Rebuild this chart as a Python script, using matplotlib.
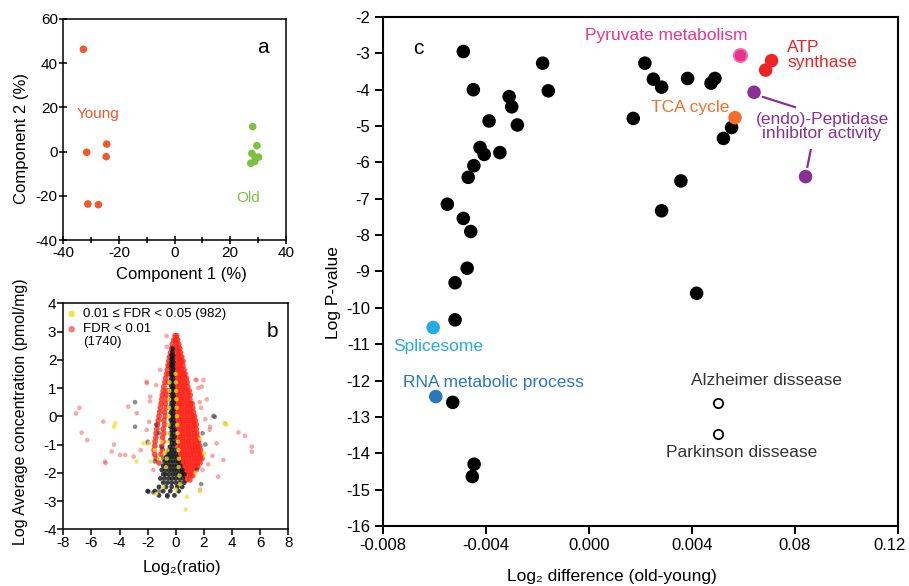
import matplotlib
matplotlib.use('Agg')
import matplotlib.pyplot as plt
import matplotlib.transforms as mtransforms

plt.rcParams['font.family'] = ['Liberation Sans', 'DejaVu Sans']
plt.rcParams['axes.unicode_minus'] = False

# ---------------- Panel a data (PCA) ----------------
young_x = [-32.8, -31.6, -24.4, -24.6, -31.2, -27.4]
young_y = [46.3, -0.3, 3.4, -2.3, -23.7, -24.0]
old_x = [28.1, 29.6, 27.8, 29.0, 30.2, 27.4, 28.8]
old_y = [11.3, 2.7, -0.8, -2.5, -2.5, -5.3, -4.5]

# ---------------- Panel b data (rows: y, list of x) ----------------
red_core_rows = [
    (2.85, [-0.05, 0.05]),
    (2.7, [-0.15, 0.0, 0.12]),
    (2.55, [-0.25, 0.05, 0.2]),
    (2.4, [-0.3, 0.0, 0.15, 0.28]),
    (2.25, [-0.38, 0.05, 0.2, 0.33]),
    (2.1, [-0.45, 0.0, 0.15, 0.3, 0.42]),
    (1.95, [-0.5, 0.05, 0.22, 0.38, 0.5]),
    (1.8, [-0.55, -0.45, 0.0, 0.17, 0.33, 0.5]),
    (1.65, [-0.6, 0.05, 0.22, 0.4, 0.58]),
    (1.5, [-0.65, -0.5, 0.0, 0.18, 0.36, 0.54, 0.66]),
    (1.35, [-0.72, 0.05, 0.25, 0.45, 0.62, 0.75]),
    (1.2, [-0.78, -0.55, 0.0, 0.2, 0.4, 0.6, 0.8]),
    (1.05, [-0.85, 0.05, 0.25, 0.45, 0.65, 0.85]),
    (0.9, [-0.9, -0.6, 0.0, 0.2, 0.4, 0.6, 0.8, 0.95]),
    (0.75, [-0.95, -0.7, 0.05, 0.25, 0.45, 0.65, 0.85, 1.02]),
    (0.6, [-1.0, -0.65, 0.0, 0.2, 0.4, 0.6, 0.8, 1.0]),
    (0.45, [-1.05, -0.75, 0.05, 0.25, 0.45, 0.65, 0.85, 1.05, 1.15]),
    (0.3, [-1.1, -0.7, 0.0, 0.2, 0.4, 0.6, 0.8, 1.0, 1.2]),
    (0.15, [-1.15, -0.8, 0.05, 0.25, 0.45, 0.65, 0.85, 1.05, 1.25]),
    (0.0, [-1.2, -0.75, 0.0, 0.2, 0.4, 0.6, 0.8, 1.0, 1.2, 1.32]),
    (-0.15, [-1.25, -0.85, 0.05, 0.25, 0.45, 0.65, 0.85, 1.05, 1.25, 1.38]),
    (-0.3, [-1.3, -0.8, 0.1, 0.3, 0.5, 0.7, 0.9, 1.1, 1.3, 1.45]),
    (-0.45, [-1.35, -0.9, 0.05, 0.25, 0.45, 0.65, 0.85, 1.05, 1.25, 1.45]),
    (-0.6, [-1.4, -0.85, 0.1, 0.3, 0.5, 0.7, 0.9, 1.1, 1.3, 1.5]),
    (-0.75, [-1.42, -0.95, 0.15, 0.35, 0.55, 0.75, 0.95, 1.15, 1.35, 1.55]),
    (-0.9, [-1.48, -0.9, 0.1, 0.3, 0.5, 0.7, 0.9, 1.1, 1.3, 1.5, 1.62]),
    (-1.05, [-1.5, -1.0, 0.15, 0.35, 0.55, 0.75, 0.95, 1.15, 1.35, 1.55, 1.7]),
    (-1.2, [-1.55, -0.95, 0.2, 0.4, 0.6, 0.8, 1.0, 1.2, 1.4, 1.6, 1.75]),
    (-1.35, [-1.5, -1.05, 0.25, 0.45, 0.65, 0.85, 1.05, 1.25, 1.45, 1.65, 1.8]),
    (-1.5, [-1.4, 0.3, 0.5, 0.7, 0.9, 1.1, 1.3, 1.5, 1.7, 1.85]),
    (-1.65, [-1.2, 0.35, 0.55, 0.75, 0.95, 1.15, 1.35, 1.55, 1.72]),
    (-1.8, [0.4, 0.6, 0.8, 1.0, 1.2, 1.4, 1.55]),
    (-1.95, [0.5, 0.7, 0.9, 1.1, 1.3]),
    (-2.1, [0.6, 0.85, 1.05, 1.2]),
    (-2.25, [0.75, 1.0]),
]
pink_x = [-6.86, -7.1, -6.3, -6.7, -5.16, -5.04, -4.56, -3.97, -3.38, -3.0, -2.07, -1.83,
          -2.07, -2.0, -1.12, -0.65, -0.65, 1.96, 1.6, 2.4, 2.9, 3.5, 3.0, 4.45, 4.92, 5.4,
          5.4, 1.72, 2.6, 2.2, -1.6, -1.9, 1.9, 2.1, -2.5, -1.4, 2.3, 1.4, 1.8, 1.49, 1.84,
          1.7, 2.43, 3.38, -3.6, -4.4, -5.0, -2.78, -2.07, -1.85]
pink_y = [0.30, 0.1, -0.84, -0.58, -0.19, -1.6, -1.25, -1.37, 0.34, -1.43, 1.22, 0.69,
          -0.48, -0.96, 1.64, 2.46, 2.84, 1.28, 1.0, -0.48, -0.96, -0.25, -2.14, -0.57, -0.69,
          -1.07, -1.25, -2.6, -1.4, 0.6, -1.9, -0.2, -1.9, -0.1, -1.2, 1.1, -1.7, 1.3, 0.3,
          1.28, 1.05, 0.5, -0.37, -1.55, -1.37, -1.0, -1.66, 0.11, 1.17, 0.53]
black_core_rows = [
    (2.4, [-0.22]), (2.28, [-0.24]), (2.16, [-0.2, -0.3]), (2.04, [-0.22, -0.3]),
    (1.92, [-0.18, -0.3]), (1.8, [-0.2, -0.32]), (1.68, [-0.18, -0.3]), (1.56, [-0.2, -0.32]),
    (1.44, [-0.18, -0.3]), (1.32, [-0.2, -0.32]), (1.2, [-0.16, -0.3]), (1.08, [-0.2, -0.33]),
    (0.96, [-0.16, -0.3]), (0.84, [-0.2, -0.34]), (0.72, [-0.15, -0.3]), (0.6, [-0.2, -0.34]),
    (0.48, [-0.15, -0.3]), (0.36, [-0.2, -0.35]), (0.24, [-0.14, -0.3]), (0.12, [-0.2, -0.36]),
    (0.0, [-0.14, -0.28]), (-0.12, [-0.2, -0.36]), (-0.24, [-0.12, -0.3]), (-0.36, [-0.2, -0.38]),
    (-0.48, [-0.1, -0.28]), (-0.6, [-0.18, -0.38]), (-0.72, [-0.1, -0.28]), (-0.84, [-0.18, -0.4]),
    (-0.96, [-0.08, -0.28]), (-1.08, [-0.2, -0.42]), (-1.2, [-0.06, -0.3, -0.5]),
    (-1.32, [-0.6, -0.4, -0.2, 0.0]), (-1.45, [-0.7, -0.5, -0.3, -0.1, 0.1]),
    (-1.6, [-0.8, -0.6, -0.4, -0.2, 0.0, 0.2]), (-1.75, [-0.9, -0.7, -0.5, -0.3, -0.1, 0.1, 0.3]),
    (-1.9, [-1.0, -0.75, -0.5, -0.3, -0.1, 0.1, 0.3, 0.45]),
    (-2.05, [-0.9, -0.7, -0.45, -0.2, 0.0, 0.2, 0.4, 0.6]),
    (-2.2, [-1.1, -0.8, -0.5, -0.25, 0.0, 0.25, 0.5]),
    (-2.35, [-0.9, -0.6, -0.3, 0.0, 0.3, 0.6]),
    (-2.5, [-1.2, -0.7, -0.3, 0.1, 0.45]),
    (-2.65, [-2.0, -1.5, -0.9, -0.4, 0.2]),
    (-2.8, [-1.2, -0.6, -0.1]),
]
gray_x = [-2.9, -2.9, -2.0, -1.95, -1.6, -1.2, -0.6, 2.67, 2.77, 1.9, 2.1, -1.4, -1.0, -1.2,
          -0.9, 1.5, 1.8, -1.5]
gray_y = [0.5, -0.37, -0.9, -2.67, -2.7, -2.65, -2.85, 0.01, -0.02, -0.6, -1.0, -0.3, -1.1,
          -0.6, -1.5, -1.9, -2.4, -1.6]
yellow_x = [-0.45, -0.45, -0.47, -0.48, -0.5, -0.52, -0.55, -0.58, -0.6, -0.65, -0.7,
            -0.02, 0.0, 0.02, 0.04, 0.06, 0.08, 0.1, 0.12, 0.15, 0.18, 0.22, 0.2, 0.25, 0.3,
            -1.9, -2.3, -1.5, -1.2, -1.8, -2.8, -1.0, -0.8, -4.4, -4.3,
            1.75, 2.0, 1.4, 3.6, 3.5, 0.7, 0.78, 1.7, -0.9, 0.0, -1.4]
yellow_y = [1.2, 0.9, 0.6, 0.3, 0.0, -0.3, -0.6, -0.9, -1.2, -1.5, -1.8,
            1.5, 1.2, 0.9, 0.6, 0.3, 0.0, -0.3, -0.6, -0.9, -1.2, -1.5, -1.8, -2.1, -2.4,
            -0.95, -0.96, -1.2, -1.5, -1.6, -1.6, -0.9, -1.3, -0.37, -0.25,
            -0.8, -1.3, -2.0, -0.3, -0.25, -3.3, -2.85, -2.65, -2.5, -2.6, -2.75]
legend_labels = ['0.01 \u2264 FDR < 0.05 (982)', 'FDR < 0.01', '(1740)']

# ---------------- Panel c data ----------------
black_x = [-0.00488, -0.00449, -0.00310, -0.00300, -0.00388, -0.00278, -0.00180, -0.00158,
           -0.00423, -0.00407, -0.00346, -0.00447, -0.00469, -0.00550, -0.00488, -0.00459,
           -0.00473, -0.00520, -0.00520, -0.00529, -0.00446, -0.00453, 0.00217, 0.00250,
           0.00282, 0.00383, 0.00489, 0.00474, 0.00172, 0.00554, 0.00522, 0.00357, 0.00282,
           0.00418]
black_y = [-2.95, -4.0, -4.19, -4.47, -4.86, -4.97, -3.27, -4.03, -5.59, -5.78, -5.73, -6.09,
           -6.41, -7.15, -7.54, -7.90, -8.91, -9.31, -10.33, -12.60, -14.30, -14.64, -3.27,
           -3.71, -3.93, -3.69, -3.69, -3.82, -4.79, -5.04, -5.34, -6.51, -7.33, -9.60]
pyruvate_x, pyruvate_y = [0.00586], [-3.05]
atp_x, atp_y = [0.00709, 0.00686], [-3.20, -3.46]
tca_x, tca_y = [0.00567], [-4.77]
pept_x, pept_y = [0.00641, 0.00841], [-4.07, -6.39]
splice_x, splice_y = [-0.00605], [-10.54]
rna_x, rna_y = [-0.00595], [-12.44]
disease_x, disease_y = [0.00502, 0.00502], [-12.62, -13.47]
c_xticks = [-0.008, -0.004, 0.0, 0.004, 0.008, 0.012]
c_xticklabels = ['-0.008', '-0.004', '0.000', '0.004', '0.08', '0.12']

# colours
C_YOUNG = '#f0592b'
C_OLD = '#7cc242'
C_PINK = '#e8338c'
C_RED = '#ee2326'
C_ORANGE = '#f36f2b'
C_PURPLE = '#8a2f96'
C_CYAN = '#25aae1'
C_BLUE = '#2a77bb'
C_YEL = '#e5e32a'

fig = plt.figure(figsize=(9.09, 5.86), dpi=100)

# ================= Panel a =================
ax = fig.add_axes([0.0697, 0.5904, 0.2447, 0.3772])
ax.scatter(young_x, young_y, s=30, color=C_YOUNG, edgecolor='none', zorder=3)
ax.scatter(old_x, old_y, s=30, color=C_OLD, edgecolor='none', zorder=3)
ax.set_xlim(-40, 40)
ax.set_ylim(-40, 60)
ax.set_xticks([-40, -20, 0, 20, 40])
ax.set_xticks([-30, -10, 10, 30], minor=True)
ax.set_yticks([-40, -20, 0, 20, 40, 60])
ax.tick_params(which='major', direction='inout', length=6, width=1.1, labelsize=11, pad=1)
ax.tick_params(which='minor', direction='inout', length=4, width=1.1)
for s in ax.spines.values():
    s.set_linewidth(1.1)
ax.set_xlabel('Component 1 (%)', fontsize=12)
ax.set_ylabel('Component 2 (%)', fontsize=12)
ax.xaxis.set_label_coords(0.53, -0.158)
ax.xaxis.label.set_va('center')
ax.yaxis.set_label_coords(-0.186, 0.46)
ax.yaxis.label.set_va('center')
ax.text(-35.1, 17.0, 'Young', color=C_YOUNG, fontsize=11, ha='left', va='center')
ax.text(26.6, -21.0, 'Old', color=C_OLD, fontsize=11, ha='center', va='center')
ax.text(31.8, 47.3, 'a', fontsize=15, ha='center', va='center')

# ================= Panel b =================
ax = fig.add_axes([0.0697, 0.0968, 0.2475, 0.3857])
rx, ry = [], []
for yv, xs in red_core_rows:
    for xv in xs:
        rx.append(xv)
        ry.append(yv)
bx, by = [], []
for yv, xs in black_core_rows:
    for xv in xs:
        bx.append(xv)
        by.append(yv)
ax.scatter(pink_x, pink_y, s=11, color='#f04040', alpha=0.45, edgecolor='none', zorder=2)
ax.scatter(rx, ry, s=17, color='#ff2418', alpha=0.8, edgecolor='none', zorder=3)
ax.scatter(gray_x, gray_y, s=11, color='#303030', alpha=0.55, edgecolor='none', zorder=3)
ax.scatter(bx, by, s=12, color='#111111', alpha=0.8, edgecolor='none', zorder=4)
ax.scatter(yellow_x, yellow_y, s=10, color=C_YEL, alpha=0.75, edgecolor='none', zorder=5)
ax.set_xlim(-8, 8)
ax.set_ylim(-4, 4)
ax.set_xticks(range(-8, 9, 2))
ax.set_yticks(range(-4, 5, 1))
ax.tick_params(direction='out', length=4, width=1.1, labelsize=11, pad=1)
for s in ax.spines.values():
    s.set_linewidth(1.1)
ax.set_xlabel('Log\u2082(ratio)', fontsize=12)
ax.set_ylabel('Log Average concentration (pmol/mg)', fontsize=11.5)
ax.xaxis.set_label_coords(0.526, -0.17)
ax.xaxis.label.set_va('center')
ax.yaxis.set_label_coords(-0.19, 0.52)
ax.yaxis.label.set_va('center')
# legend (manual, matches the reference layout)
ax.scatter([0.037], [0.953], s=22, color=C_YEL, alpha=0.85, edgecolor='none',
           transform=ax.transAxes, zorder=6, clip_on=False)
ax.scatter([0.037], [0.885], s=22, color='#f07070', alpha=0.9, edgecolor='none',
           transform=ax.transAxes, zorder=6, clip_on=False)
ax.text(0.088, 0.953, legend_labels[0], transform=ax.transAxes, fontsize=9.5, va='center')
ax.text(0.088, 0.885, legend_labels[1], transform=ax.transAxes, fontsize=9.5, va='center')
ax.text(0.088, 0.829, legend_labels[2], transform=ax.transAxes, fontsize=9.5, va='center')
ax.text(0.93, 0.874, 'b', transform=ax.transAxes, fontsize=15, ha='center', va='center')

# ================= Panel c =================
ax = fig.add_axes([0.4213, 0.1024, 0.5666, 0.8686])
ms = 95
ax.scatter(black_x, black_y, s=ms, color='black', edgecolor='none', zorder=3)
ax.scatter(pyruvate_x, pyruvate_y, s=ms, color=C_PINK, edgecolor='#f27bb4', linewidth=1.2, zorder=3)
ax.scatter(atp_x, atp_y, s=ms, color=C_RED, edgecolor='none', zorder=3)
ax.scatter(tca_x, tca_y, s=ms, color=C_ORANGE, edgecolor='none', zorder=4)
ax.scatter(pept_x, pept_y, s=ms, color=C_PURPLE, edgecolor='none', zorder=3)
ax.scatter(splice_x, splice_y, s=ms, color=C_CYAN, edgecolor='none', zorder=3)
ax.scatter(rna_x, rna_y, s=ms, color=C_BLUE, edgecolor='none', zorder=3)
ax.scatter(disease_x, disease_y, s=45, facecolor='white', edgecolor='black', linewidth=1.3, zorder=3)
ax.set_xlim(-0.008, 0.012)
ax.set_ylim(-16, -2)
ax.set_xticks(c_xticks)
ax.set_xticklabels(c_xticklabels)
ax.set_yticks(range(-16, -1, 1))
ax.tick_params(direction='out', length=6, width=1.4, labelsize=12, pad=3)
# last tick label sits slightly left of its tick in the reference
last = ax.get_xticklabels()[-1]
last.set_transform(last.get_transform() + mtransforms.ScaledTranslation(-8 / 100, 0, fig.dpi_scale_trans))
for s in ax.spines.values():
    s.set_linewidth(1.5)
ax.set_xlabel('Log\u2082 difference (old-young)', fontsize=12.5)
ax.set_ylabel('Log P-value', fontsize=12.5)
ax.xaxis.set_label_coords(0.444, -0.1)
ax.xaxis.label.set_va('center')
ax.yaxis.set_label_coords(-0.097, 0.458)
ax.yaxis.label.set_va('center')

fs = 12.5
ax.text(-0.00664, -2.88, 'c', fontsize=15, ha='center', va='center')
ax.text(0.00301, -2.50, 'Pyruvate metabolism', color=C_PINK, fontsize=fs, ha='center', va='center')
ax.text(0.00769, -3.05, 'ATP\nsynthase', color=C_RED, fontsize=fs, ha='left', va='center',
        linespacing=0.95)
ax.text(0.00547, -4.49, 'TCA cycle', color=C_ORANGE, fontsize=fs, ha='right', va='center')
ax.text(0.00905, -5.01, '(endo)-Peptidase\ninhibitor activity', color=C_PURPLE, fontsize=fs,
        ha='center', va='center', linespacing=0.95)
ax.plot([0.00676, 0.00800], [-4.20, -4.48], color=C_PURPLE, lw=1.6, zorder=2)
ax.plot([0.00861, 0.00848], [-5.66, -6.12], color=C_PURPLE, lw=1.6, zorder=2)
ax.text(-0.00761, -11.07, 'Splicesome', color=C_CYAN, fontsize=fs, ha='left', va='center')
ax.text(-0.00724, -12.06, 'RNA metabolic process', color=C_BLUE, fontsize=fs, ha='left', va='center')
ax.text(0.00691, -12.0, 'Alzheimer dissease', color='#333333', fontsize=fs, ha='center', va='center')
ax.text(0.00594, -13.98, 'Parkinson dissease', color='#333333', fontsize=fs, ha='center', va='center')

fig.savefig('out.png', dpi=100)
